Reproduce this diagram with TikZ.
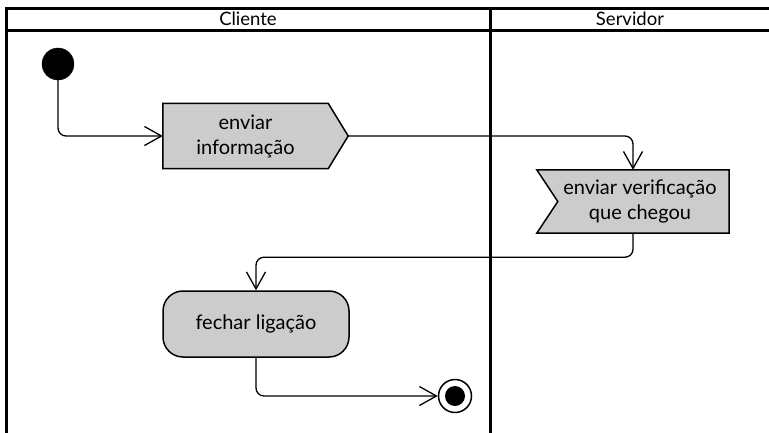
\documentclass[tikz,border=0pt]{standalone}
\usepackage{fontspec}
\setmainfont{Lato}
\usetikzlibrary{arrows.meta,backgrounds}
\definecolor{boxgray}{RGB}{204,204,204}
\tikzset{
  lane/.style={line width=3pt, line cap=rect},
  flow/.style={line width=1.3pt, rounded corners=8pt,
    -{Straight Barb[length=17pt,width=19pt,line width=1.3pt]}},
  boxtext/.style={inner sep=0pt, align=center, font=\fontsize{20}{25}\selectfont},
  boxline/.style={draw=black, line width=1.5pt, fill=boxgray},
  lanetitle/.style={font=\fontsize{18.5}{20}\selectfont, inner sep=0pt}
}
\begin{document}
\begin{tikzpicture}[x=1pt, y=-1pt]
\useasboundingbox (0,0) rectangle (769,432);

% swimlane frame
\draw[lane] (6.5,8.5) -- (769,8.5);
\draw[lane] (6.5,30) -- (769,30);
\draw[lane] (6.5,8.5) -- (6.5,432);
\draw[lane] (490,8.5) -- (490,432);
\node[lanetitle, anchor=base] (cliente) at (248,25) {Cliente};
\node[lanetitle, anchor=base] (servidor) at (630,25) {Servidor};

% initial node
\node[circle, fill=black, draw=black, minimum size=32pt, inner sep=0pt] (start) at (58,64) {};

% send signal action
\node[boxtext, minimum width=165pt, minimum height=65pt] (send) at (245.5,136) {enviar\\informação};
\coordinate (sendtip) at ([xshift=20pt]send.east);
\begin{scope}[on background layer]
  \draw[boxline] (send.north west) -- (send.north east) -- (sendtip)
    -- (send.south east) -- (send.south west) -- cycle;
\end{scope}

% accept event action
\node[boxtext, minimum width=192pt, minimum height=63pt] (accept) at (633,201.5) {\hspace*{14pt}enviar verificação\\\hspace*{14pt}que chegou};
\coordinate (notch) at ([xshift=21pt]accept.west);
\begin{scope}[on background layer]
  \draw[boxline] (accept.north west) -- (accept.north east) -- (accept.south east)
    -- (accept.south west) -- (notch) -- cycle;
\end{scope}

% plain action
\node[boxtext, boxline, rounded corners=20pt, minimum width=186pt, minimum height=66pt] (close) at (256,324) {fechar ligação};

% final node
\node[circle, draw=black, line width=1.5pt, fill=white, minimum size=33pt, inner sep=0pt] (end) at (455,396) {};
\node[circle, fill=black, minimum size=20pt, inner sep=0pt] (enddot) at (end.center) {};

% control flow
\draw[flow] (start.south) |- (send.west);
\draw[flow] (sendtip) -| (accept.north);
\draw[flow] (accept.south) -- ++(0,24) -| (close.north);
\draw[flow] (close.south) |- (end.west);
\end{tikzpicture}
\end{document}
